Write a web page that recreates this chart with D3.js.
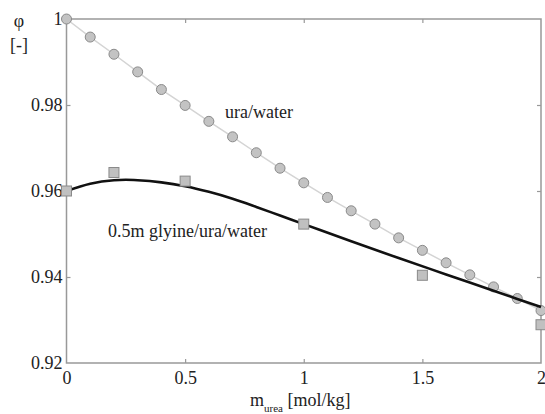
<!DOCTYPE html>
<html>
<head>
<meta charset="utf-8">
<script src="https://cdn.jsdelivr.net/npm/d3@7"></script>
<style>
  html, body { margin: 0; padding: 0; background: #fff; }
  svg { display: block; }
  svg text { fill: #222; }
</style>
</head>
<body>
<svg id="chart" width="545" height="414"></svg>
<script>
// Osmotic coefficient of urea solutions
const ureaMolality = [0, 0.1, 0.2, 0.3, 0.4, 0.5, 0.6, 0.7, 0.8, 0.9, 1.0,
                      1.1, 1.2, 1.3, 1.4, 1.5, 1.6, 1.7, 1.8, 1.9, 2.0];
const phiUreaWater = [1.0, 0.9958, 0.9918, 0.9877, 0.9836, 0.9799, 0.9762, 0.9726,
                      0.9689, 0.9653, 0.9619, 0.9585, 0.9554, 0.9523, 0.9491,
                      0.9462, 0.9433, 0.9405, 0.9377, 0.9350, 0.9322];

// Measured points with 0.5 m glycine
const glyMolality = [0, 0.2, 0.5, 1.0, 1.5, 2.0];
const phiGlyMeasured = [0.960, 0.9643, 0.9623, 0.9523, 0.9404, 0.9289];

// Model curve with 0.5 m glycine
const modelMolality = [0, 0.1, 0.2, 0.25, 0.3, 0.4, 0.5, 0.6, 0.7, 0.8, 0.9,
                       1.0, 1.2, 1.4, 1.6, 1.8, 2.0];
const phiGlyModel = [0.9600, 0.9617, 0.9625, 0.9626, 0.9625, 0.9620, 0.9611, 0.9598,
                     0.9582, 0.9563, 0.9543, 0.9523, 0.9483, 0.9444, 0.9406,
                     0.9368, 0.9330];

const xTicks = [0, 0.5, 1, 1.5, 2];
const xTickLabels = ["0", "0.5", "1", "1.5", "2"];
const yTicks = [0.92, 0.94, 0.96, 0.98, 1];
const yTickLabels = ["0.92", "0.94", "0.96", "0.98", "1"];

const serif = "'Times New Roman', Times, 'Liberation Serif', 'DejaVu Serif', 'Noto Serif', Georgia, serif";
const svg = d3.select("#chart");
const plotL = 66.5, plotR = 541, plotT = 19, plotB = 363;

const x = d3.scaleLinear().domain([0, 2]).range([plotL, plotR]);
const y = d3.scaleLinear().domain([0.92, 1]).range([plotB, plotT]);

const axisColor = "#999";

// Frame
svg.append("rect")
  .attr("x", plotL).attr("y", plotT)
  .attr("width", plotR - plotL).attr("height", plotB - plotT)
  .attr("fill", "none").attr("stroke", axisColor).attr("stroke-width", 1.5);

// Axes with inward ticks
const fmtX = (d) => xTickLabels[xTicks.indexOf(d)];
const fmtY = (d) => yTickLabels[yTicks.indexOf(d)];

function styleAxis(g) {
  g.attr("font-family", null).attr("font-size", null);
  g.select(".domain").remove();
  g.selectAll(".tick line").attr("stroke", axisColor).attr("stroke-width", 1.2);
  g.selectAll(".tick text")
    .style("font-family", serif).style("font-size", "18px").attr("fill", "#222");
}

const xAxisB = svg.append("g").attr("transform", `translate(0,${plotB})`)
  .call(d3.axisBottom(x).tickValues(xTicks).tickFormat(fmtX).tickSizeInner(-4).tickPadding(8));
styleAxis(xAxisB);
xAxisB.selectAll(".tick").filter(d => d === 0 || d === 2).select("line").remove();

const xAxisT = svg.append("g").attr("transform", `translate(0,${plotT})`)
  .call(d3.axisTop(x).tickValues(xTicks).tickFormat("").tickSizeInner(-4));
styleAxis(xAxisT);
xAxisT.selectAll(".tick").filter(d => d === 0 || d === 2).select("line").remove();

const yAxisL = svg.append("g").attr("transform", `translate(${plotL},0)`)
  .call(d3.axisLeft(y).tickValues(yTicks).tickFormat(fmtY).tickSizeInner(-4).tickPadding(4));
styleAxis(yAxisL);
yAxisL.selectAll(".tick").filter(d => d === 0.92 || d === 1).select("line").remove();

const yAxisR = svg.append("g").attr("transform", `translate(${plotR},0)`)
  .call(d3.axisRight(y).tickValues(yTicks).tickFormat("").tickSizeInner(-4));
styleAxis(yAxisR);
yAxisR.selectAll(".tick").filter(d => d === 0.92 || d === 1).select("line").remove();

// Urea/water series: thin line with circle markers
const ureaPts = ureaMolality.map((m, i) => [m, phiUreaWater[i]]);
svg.append("path")
  .datum(ureaPts)
  .attr("fill", "none").attr("stroke", "#d4d4d4").attr("stroke-width", 1.5)
  .attr("d", d3.line().x(d => x(d[0])).y(d => y(d[1])));

svg.append("g").selectAll("circle")
  .data(ureaPts).join("circle")
  .attr("cx", d => x(d[0])).attr("cy", d => y(d[1])).attr("r", 5)
  .attr("fill", "#c3c3c3").attr("stroke", "#8a8a8a").attr("stroke-width", 1);

// Glycine model curve
const modelPts = modelMolality.map((m, i) => [m, phiGlyModel[i]]);
svg.append("path")
  .datum(modelPts)
  .attr("fill", "none").attr("stroke", "#111").attr("stroke-width", 2.6)
  .attr("d", d3.line().curve(d3.curveMonotoneX).x(d => x(d[0])).y(d => y(d[1])));

// Glycine measured squares
const glyPts = glyMolality.map((m, i) => [m, phiGlyMeasured[i]]);
const sq = 10;
svg.append("g").selectAll("rect")
  .data(glyPts).join("rect")
  .attr("x", d => x(d[0]) - sq / 2).attr("y", d => y(d[1]) - sq / 2)
  .attr("width", sq).attr("height", sq)
  .attr("fill", "#c0c0c0").attr("stroke", "#8a8a8a").attr("stroke-width", 1);

// Series annotations
function label(xp, yp, txt, size) {
  return svg.append("text").attr("x", xp).attr("y", yp)
    .style("font-family", serif).style("font-size", size + "px").text(txt);
}
label(225, 118, "ura/water", 18);
label(108, 237, "0.5m glyine/ura/water", 18);

// Axis titles
const xt = svg.append("text").attr("x", 250).attr("y", 406)
  .style("font-family", serif).style("font-size", "18px");
xt.append("tspan").text("m");
xt.append("tspan").attr("dy", 6).style("font-size", "11px").text("urea");
xt.append("tspan").attr("dy", -6).text(" [mol/kg]");

label(19, 27, "\u03C6", 18).attr("text-anchor", "middle");
label(19, 51, "[-]", 18).attr("text-anchor", "middle");
</script>
</body>
</html>
